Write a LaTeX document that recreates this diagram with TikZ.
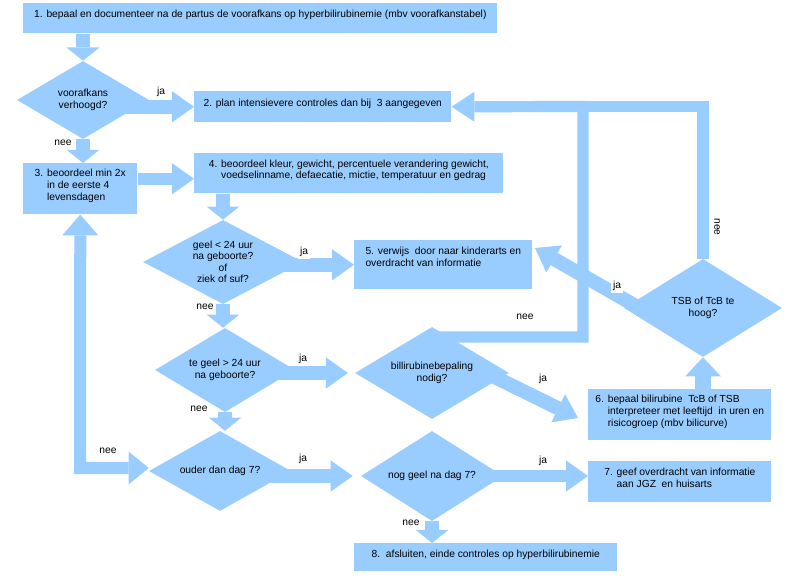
\documentclass[tikz,border=0pt]{standalone}
\usepackage{fontspec}
\setmainfont{Liberation Sans}
\usetikzlibrary{shapes.geometric, arrows.meta, backgrounds}
\definecolor{flowblue}{HTML}{99CCFF}
\tikzset{
  box/.style={rectangle, fill=flowblue, anchor=north west, inner sep=0pt, align=left,
    execute at end node={\rule[-0.2cm]{0pt}{0pt}}},
  decision/.style={diamond, fill=flowblue, inner sep=0pt, aspect=1.8, align=center},
  lbl/.style={fill=white, inner sep=1.5pt},
  band/.style={draw=flowblue, line width=#1},
  fat/.style={band=0.35cm, -{Triangle[length=0.55cm, width=0.78cm, line width=0pt]}},
  stub/.style={band=0.33cm, -{Triangle[length=0.33cm, width=0.82cm, line width=0pt]}},
}

\begin{document}
\begin{tikzpicture}[x=0.025cm, y=-0.025cm, font=\fontsize{7.3}{8.2}\selectfont]
  \useasboundingbox (0,0) rectangle (800,582);

  \node[box, align=center, minimum width=11.85cm, minimum height=0.75cm] (b1) at (23,3) {1. bepaal en documenteer na de partus de voorafkans op hyperbilirubinemie (mbv voorafkanstabel)};
  \node[decision, minimum width=3.3cm, minimum height=1.95cm] (d1) at (83,100) {voorafkans\\verhoogd?};
  \node[box, align=center, minimum width=6.425cm, minimum height=0.775cm] (b2) at (194,91) {2. plan intensievere controles dan bij\ \ 3 aangegeven};
  \node[box, minimum width=2.85cm, minimum height=1.275cm] (b3) at (23,163) {3. beoordeel min 2x\\\phantom{3. }in de eerste 4\\\phantom{3. }levensdagen};
  \node[box, minimum width=7.725cm, minimum height=1cm] (b4) at (194,153) {4. beoordeel kleur, gewicht, percentuele verandering gewicht,\\\phantom{4. }voedselinname, defaecatie, mictie, temperatuur en gedrag};
  \node[decision, minimum width=4cm, minimum height=2.1cm] (d2) at (223,262) {geel < 24 uur\\na geboorte?\\of\\ziek of suf?};
  \node[box, minimum width=4.45cm, minimum height=1.225cm, execute at end node={\rule[-0.4cm]{0pt}{0pt}}] (b5) at (354,240) {5. verwijs\ \ door naar kinderarts en\\overdracht van informatie};
  \node[decision, minimum width=3.5cm, minimum height=2.1cm] (d3) at (225,370) {te geel > 24 uur\\na geboorte?};
  \node[decision, minimum width=3.85cm, minimum height=2.3cm] (d4) at (432,373) {billirubinebepaling\\nodig?};
  \node[decision, minimum width=3.95cm, minimum height=2.45cm] (dT) at (703,308) {TSB of TcB te\\hoog?};
  \node[box, minimum width=4.575cm, minimum height=1.275cm] (b6) at (588,389) {6. bepaal bilirubine\ \ TcB of TSB\\\phantom{6. }interpreteer met leeftijd\ \ in uren en\\\phantom{6. }risicogroep (mbv bilicurve)};
  \node[decision, minimum width=3.55cm, minimum height=2cm] (d5) at (220,471) {ouder dan dag 7?};
  \node[decision, minimum width=3.55cm, minimum height=2.25cm] (d6) at (432,476) {nog geel na dag 7?};
  \node[box, minimum width=4.575cm, minimum height=1.025cm] (b7) at (588,461) {7. geef overdracht van informatie\\\phantom{7. }aan JGZ\ \ en huisarts};
  \node[box, align=center, minimum width=6.575cm, minimum height=0.7cm] (b8) at (354,543) {8.\ \ afsluiten, einde controles op hyperbilirubinemie};

  \coordinate (s34) at ([yshift=0.25cm]b3.east);
  \coordinate (k1) at (583,337);
  \coordinate (k2) at (583,106.5);
  \coordinate (k3) at (703,106.5);
  \coordinate (cL) at (80,468);
  \coordinate (j4) at (470,365);
  \coordinate (t6) at (578,418);
  \coordinate (jT) at (648,313);
  \coordinate (t5) at (535,248);

  \begin{scope}[on background layer]
    \fill[white] (0,0) rectangle (800,582);
    \draw[stub] (b1.south -| d1.north) -- (d1.north);
    \draw[fat] (d1.center |- b2.west) -- (b2.west);
    \draw[stub] (d1.south) -- (d1.south |- b3.north);
    \draw[fat, band=0.3cm] (s34) -- (s34 -| b4.west);
    \draw[stub] (b4.south -| d2.north) -- (d2.north);
    \draw[fat] (d2.center |- b5.west) -- (b5.west);
    \draw[stub] (d2.south) -- (d2.south |- d3.north);
    \draw[fat, shorten >=0.17cm] (d3.center |- d4.west) -- (d4.west);
    \draw[stub] (d3.south) -- (d3.south |- d5.north);
    \draw[fat, shorten >=0.2cm] (d5.center |- d6.west) -- (d6.west);
    \draw[fat, band=0.28cm] (d6.center) -- (d6.center -| b7.west);
    \draw[stub] (d6.south) -- (d6.south |- b8.north);
    \draw[band=0.3cm, {Triangle[length=0.52cm, width=0.9cm, line width=0pt]}-{Triangle[length=0.5cm, width=0.82cm, line width=0pt]}] (b3.south) -- (cL) -- (cL -| d5.west);
    \draw[band=0.28cm, -{Triangle[length=0.57cm, width=0.75cm, line width=0pt]}] (d4.center |- k1) -- (k1) -- (k2) -- (b2.east);
    \draw[band=0.28cm] (dT.north) -- (k3) -- (k2);
    \draw[band=0.4cm, -{Triangle[length=0.48cm, width=0.9cm, line width=0pt]}] (b6.north -| dT.south) -- (dT.south);
    \draw[fat] (j4) -- (t6);
    \draw[fat] (jT) -- (t5);
  \end{scope}

  \node[lbl] (ja1) at (161,92) {ja};
  \node[lbl] (nee1) at (63,143) {nee};
  \node[lbl] (ja2) at (304,252) {ja};
  \node[lbl] (nee2) at (205,307) {nee};
  \node[lbl] (ja3) at (303,359) {ja};
  \node[lbl] (nee3) at (199,409) {nee};
  \node[lbl] (nee4) at (525,317) {nee};
  \node[lbl] (ja4) at (543,379) {ja};
  \node[lbl, rotate=-90] (neeT) at (717,227) {nee};
  \node[lbl] (jaT) at (617,286) {ja};
  \node[lbl] (neeL) at (108,451) {nee};
  \node[lbl] (ja5) at (303,459) {ja};
  \node[lbl] (ja6) at (543,461) {ja};
  \node[lbl] (nee6) at (411,523) {nee};
\end{tikzpicture}
\end{document}
